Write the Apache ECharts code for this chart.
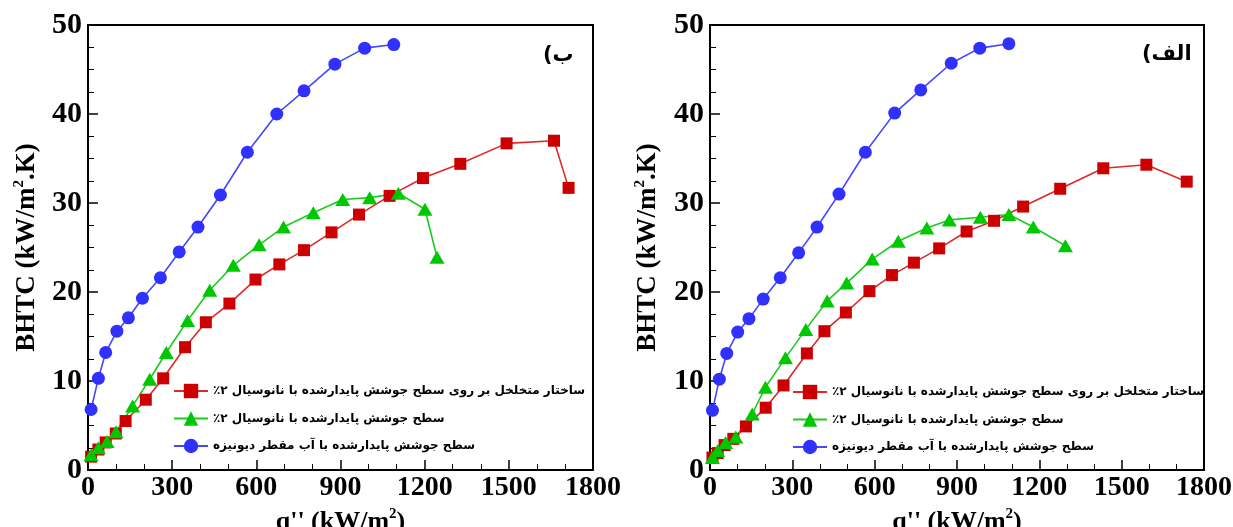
<!DOCTYPE html>
<html>
<head>
<meta charset="utf-8">
<script src="https://cdn.jsdelivr.net/npm/echarts@6/dist/echarts.min.js"></script>
<style>
html,body{margin:0;padding:0;background:#fff;}
#c{width:1233px;height:527px;}
</style>
</head>
<body>
<div id="c"></div>
<script>
// ---- Series names (legend) ----
const nameRed   = 'ساختار متخلخل بر روی سطح جوشش پایدارشده با نانوسیال ۲٪';
const nameGreen = 'سطح جوشش پایدارشده با نانوسیال ۲٪';
const nameBlue  = 'سطح جوشش پایدارشده با آب مقطر دیونیزه';
const panelLabelB = 'ب)';
const panelLabelA = 'الف)';

// ---- Axis tick settings ----
const xTicks = [0, 300, 600, 900, 1200, 1500, 1800];
const yTicks = [0, 10, 20, 30, 40, 50];

// ---- Left panel (ب) ----
const bRedX   = [11, 37, 63, 99, 134, 206, 268, 346, 420, 504, 597, 682, 770, 868, 966, 1075, 1194, 1327, 1492, 1661, 1713];
const bRedY   = [1.5, 2.3, 3.1, 4.1, 5.5, 7.9, 10.3, 13.8, 16.6, 18.7, 21.4, 23.1, 24.7, 26.7, 28.7, 30.8, 32.8, 34.4, 36.7, 37.0, 31.7];
const bGreenX = [11, 37, 68, 100, 159, 220, 279, 355, 434, 518, 610, 697, 803, 908, 1004, 1106, 1201, 1244];
const bGreenY = [1.7, 2.5, 3.2, 4.3, 7.2, 10.2, 13.2, 16.8, 20.2, 23.0, 25.3, 27.3, 28.9, 30.4, 30.6, 31.1, 29.3, 23.9];
const bBlueX  = [11, 37, 63, 103, 144, 194, 258, 325, 392, 472, 568, 673, 770, 880, 986, 1090];
const bBlueY  = [6.8, 10.3, 13.2, 15.6, 17.1, 19.3, 21.6, 24.5, 27.3, 30.9, 35.7, 40.0, 42.6, 45.6, 47.4, 47.8];

// ---- Right panel (الف) ----
const aRedX   = [9, 28, 53, 85, 131, 203, 268, 353, 417, 495, 581, 663, 743, 835, 935, 1035, 1141, 1276, 1433, 1590, 1737];
const aRedY   = [1.4, 1.9, 2.8, 3.5, 4.9, 7.0, 9.5, 13.1, 15.6, 17.7, 20.1, 21.9, 23.3, 24.9, 26.8, 28.0, 29.6, 31.6, 33.9, 34.3, 32.4];
const aGreenX = [9, 28, 57, 94, 154, 202, 275, 349, 427, 498, 591, 686, 790, 872, 985, 1089, 1178, 1295];
const aGreenY = [1.4, 2.2, 3.1, 3.7, 6.3, 9.3, 12.6, 15.8, 19.0, 21.0, 23.7, 25.7, 27.2, 28.1, 28.4, 28.7, 27.3, 25.2];
const aBlueX  = [9, 34, 61, 101, 142, 194, 256, 323, 390, 470, 566, 673, 768, 879, 983, 1089];
const aBlueY  = [6.7, 10.2, 13.1, 15.5, 17.0, 19.2, 21.6, 24.4, 27.3, 31.0, 35.7, 40.1, 42.7, 45.7, 47.4, 47.9];

const zip = (xs, ys) => xs.map((x, i) => [x, ys[i]]);
const rtl = s => '\u202B' + s + '\u202C';

const SERIF = '"Liberation Serif","Times New Roman",serif';
const ARAB = '"DejaVu Sans",sans-serif';

const RED = '#cc0000', RED_L = '#e02828';
const GREEN = '#00c800', GREEN_L = '#1ccc1c';
const BLUE = '#3030ff', BLUE_L = '#4646ff';

const nameStyle = (fs) => ({
  fontFamily: SERIF, fontWeight: 'bold', fontSize: fs, color: '#000',
  rich: { sup: { fontFamily: SERIF, fontWeight: 'bold', fontSize: 15, color: '#000', verticalAlign: 'top', lineHeight: 30 },
          n: { fontFamily: SERIF, fontWeight: 'bold', fontSize: fs, color: '#000', lineHeight: 30 } }
});

function xAxis(gi) {
  return {
    type: 'value', gridIndex: gi, min: xTicks[0], max: xTicks[xTicks.length - 1], interval: xTicks[1] - xTicks[0],
    name: "{n|q'' (kW/m}{sup|2}{n|)}", nameLocation: 'middle', nameGap: 27,
    nameTextStyle: nameStyle(26),
    axisLine: { show: true, lineStyle: { color: '#000', width: 2 } },
    axisTick: { show: true, inside: true, length: 10, lineStyle: { color: '#000', width: 1.5 } },
    minorTick: { show: true, splitNumber: 3, length: 6, lineStyle: { color: '#000', width: 1 } },
    splitLine: { show: false },
    axisLabel: { fontFamily: SERIF, fontWeight: 'bold', fontSize: 28, color: '#000', margin: 4,
                 showMaxLabel: true, showMinLabel: true, formatter: v => String(v) }
  };
}
function yAxis(gi, gap) {
  return {
    type: 'value', gridIndex: gi, min: yTicks[0], max: yTicks[yTicks.length - 1], interval: yTicks[1] - yTicks[0],
    name: '{n|BHTC (kW/m}{sup|2}{n|.K)}', nameLocation: 'middle', nameGap: gap, nameRotate: 90,
    nameTextStyle: nameStyle(27),
    axisLine: { show: true, lineStyle: { color: '#000', width: 2 } },
    axisTick: { show: true, inside: true, length: 10, lineStyle: { color: '#000', width: 1.5 } },
    minorTick: { show: true, splitNumber: 4, length: 6, lineStyle: { color: '#000', width: 1 } },
    splitLine: { show: false },
    axisLabel: { fontFamily: SERIF, fontWeight: 'bold', fontSize: 30, color: '#000', margin: 6, formatter: v => String(v) }
  };
}
function mk(name, data, gi, sym, size, c, lc) {
  return {
    type: 'line', name, xAxisIndex: gi, yAxisIndex: gi, data,
    symbol: sym, symbolSize: size, showSymbol: true,
    itemStyle: { color: c },
    lineStyle: { color: lc, width: 1.6 },
    animation: false
  };
}
function legend(left, top) {
  return {
    orient: 'vertical', left, top, padding: 0, itemGap: 9, itemWidth: 34, itemHeight: 18,
    data: [nameRed, nameGreen, nameBlue],
    formatter: n => rtl(n),
    textStyle: { fontFamily: ARAB, fontWeight: 'bold', fontSize: 12, color: '#000', lineHeight: 18 },
    itemGap: 9,
    selectedMode: false
  };
}

const chart = echarts.init(document.getElementById('c'), null, { renderer: 'canvas' });
const lg0 = legend(173, 382), lg1 = legend(792, 383);
lg0.itemGap = 9.5; lg1.itemGap = 9.5;
chart.setOption({
  backgroundColor: '#fff',
  animation: false,
  grid: [
    { left: 88, top: 25, width: 505, height: 445, outerBoundsMode: 'none', containLabel: false, show: true, borderColor: '#000', borderWidth: 2, backgroundColor: 'transparent' },
    { left: 710, top: 25, width: 494, height: 445, outerBoundsMode: 'none', containLabel: false, show: true, borderColor: '#000', borderWidth: 2, backgroundColor: 'transparent' }
  ],
  xAxis: [xAxis(0), xAxis(1)],
  yAxis: [yAxis(0, 46), yAxis(1, 47)],
  legend: [lg0, lg1],
  graphic: [
    { type: 'text', left: 543, top: 45, style: { text: rtl(panelLabelB), fontFamily: ARAB, fontWeight: 'bold', fontSize: 21, fill: '#000' } },
    { type: 'text', left: 1142, top: 44, style: { text: rtl(panelLabelA), fontFamily: ARAB, fontWeight: 'bold', fontSize: 21, fill: '#000' } }
  ],
  series: [
    mk(nameRed,   zip(bRedX, bRedY),     0, 'rect', 12, RED, RED_L),
    mk(nameGreen, zip(bGreenX, bGreenY), 0, 'triangle', [15, 13], GREEN, GREEN_L),
    mk(nameBlue,  zip(bBlueX, bBlueY),   0, 'circle', 13, BLUE, BLUE_L),
    mk(nameRed,   zip(aRedX, aRedY),     1, 'rect', 12, RED, RED_L),
    mk(nameGreen, zip(aGreenX, aGreenY), 1, 'triangle', [15, 13], GREEN, GREEN_L),
    mk(nameBlue,  zip(aBlueX, aBlueY),   1, 'circle', 13, BLUE, BLUE_L)
  ]
});
</script>
</body>
</html>
